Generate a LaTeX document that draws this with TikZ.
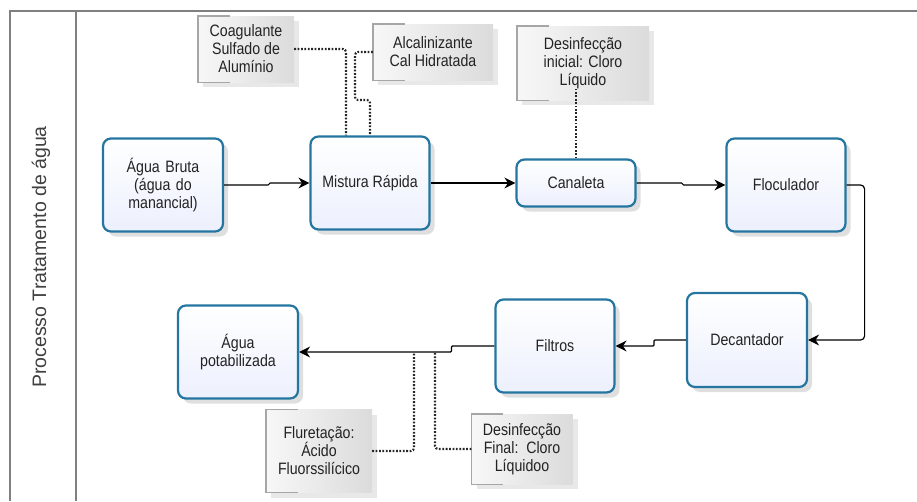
\documentclass[tikz,border=0pt]{standalone}
\usepackage{fontspec}
\setmainfont{Liberation Sans}[FakeStretch=0.86]
\newfontfamily\lanefont{Liberation Sans}
\usetikzlibrary{arrows.meta,shadows,positioning}
\definecolor{procborder}{RGB}{36,118,160}
\definecolor{procfill}{RGB}{236,240,253}
\definecolor{frameline}{RGB}{128,128,128}
\definecolor{txt}{RGB}{35,35,35}
\tikzset{
  proc/.style={draw=procborder, line width=2.2pt, rounded corners=8pt,
    top color=white, bottom color=procfill, align=center, text=txt,
    font=\fontsize{16.5}{18}\selectfont, inner sep=3pt,
    drop shadow={opacity=0.25, shadow xshift=5pt, shadow yshift=-5pt}},
  note/.style={draw=none, left color=gray!6, right color=gray!28, align=center,
    text=txt, font=\fontsize{16.5}{18}\selectfont, inner sep=2pt,
    drop shadow={opacity=0.18, shadow xshift=5pt, shadow yshift=-5pt}},
  flow/.style={draw=black, line width=1.2pt, rounded corners=1pt,
    -{Stealth[length=11pt,width=11pt]}},
  assoc/.style={draw=black!85, line width=2.1pt, dash pattern=on 1.8pt off 1.6pt,
    rounded corners=3pt},
  bracket/.style={draw=gray!70, line width=1.4pt}
}
\newcommand{\notebracket}[1]{%
  \draw[bracket] ([xshift=32pt]#1.north west) -- (#1.north west) -- (#1.south west) -- ([xshift=32pt]#1.south west);}
\begin{document}
\begin{tikzpicture}[x=1pt,y=-1pt]
\useasboundingbox (0,0) rectangle (917,501);
% frame
\draw[frameline, line width=1.8pt] (10,501) -- (10,11) -- (917,11);
\draw[frameline, line width=1.8pt] (76,11) -- (76,501);
\node[rotate=90, text=black!75, font=\lanefont\fontsize{19.5}{22}\selectfont] (lane) at (41,257) {Processo Tratamento de água};

% process nodes
\node[proc, minimum width=120pt, minimum height=93pt, text width=100pt] (A) at (163,185) {Água Bruta\\(água do\\manancial)};
\node[proc, minimum width=119pt, minimum height=93pt] (M) at (370,183) {Mistura Rápida};
\node[proc, minimum width=119pt, minimum height=47pt] (C) at (576,183) {Canaleta};
\node[proc, minimum width=119pt, minimum height=93pt] (F) at (786,185) {Floculador};
\node[proc, minimum width=120pt, minimum height=94pt] (D) at (747,340) {Decantador};
\node[proc, minimum width=119pt, minimum height=93pt] (Fi) at (555,346) {Filtros};
\node[proc, minimum width=120pt, minimum height=93pt] (P) at (238,352) {Água\\potabilizada};

% annotations
\node[note, minimum width=96pt, minimum height=66pt] (Coag) at (246,49) {Coagulante\\Sulfado de\\Alumínio};
\notebracket{Coag}
\node[note, minimum width=120pt, minimum height=56pt] (Alc) at (433,52) {Alcalinizante\\Cal Hidratada};
\notebracket{Alc}
\node[note, minimum width=132pt, minimum height=74pt] (Din) at (583,63) {Desinfecção\\inicial: Cloro\\Líquido};
\notebracket{Din}
\node[note, minimum width=106pt, minimum height=83pt] (Flu) at (319,451) {Fluretação:\\Ácido\\Fluorssilícico};
\notebracket{Flu}
\node[note, minimum width=101pt, minimum height=70pt] (DF) at (522,449) {Desinfecção\\Final:\ \ Cloro\\Líquidoo};
\notebracket{DF}

% helper coordinates
\coordinate (k1) at (355,100);
\coordinate (f1) at (414,352);
\coordinate (f2) at (435,352);

% flows
\draw[flow] (A.east) -- ++(45,0) |- (M.west);
\draw[flow] (M.east) -- (C.west);
\draw[flow] (C.east) -- ++(46,0) |- (F.west);
\draw[flow, rounded corners=4pt] (F.east) -- ++(18,0) |- (D.east);
\draw[flow] (D.west) -- ++(-32,0) |- (Fi.east);
\draw[flow] (Fi.west) -- ++(-43,0) |- (P.east);

% associations
\draw[assoc] (Coag.east) -| ([xshift=-24pt]M.north);
\draw[assoc] (Alc.west) -| (k1) -| (M.north);
\draw[assoc] (C.north) -- ++(0,-69);
\draw[assoc] (Flu.east) -| (f1);
\draw[assoc] (DF.west) -| (f2);
\end{tikzpicture}
\end{document}
